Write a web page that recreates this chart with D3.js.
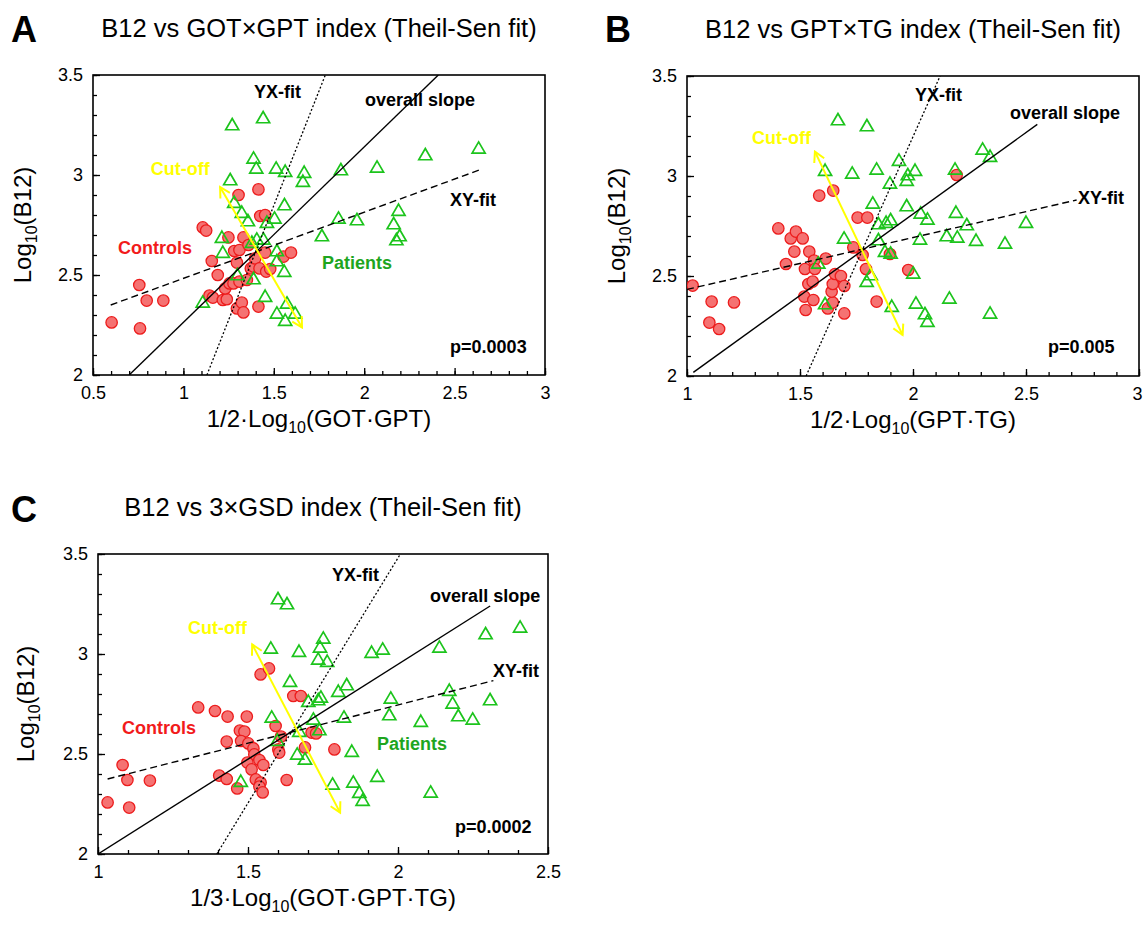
<!DOCTYPE html>
<html><head><meta charset="utf-8">
<script src="https://cdn.jsdelivr.net/npm/d3@7/dist/d3.min.js"></script>
<style>
html,body{margin:0;padding:0;background:#fff;}
svg{display:block;font-family:"Liberation Sans",Arial,Helvetica,sans-serif;}
</style></head>
<body>
<svg id="chart" width="1143" height="929"></svg>
<script>
// ---------- DATA ----------
const yTicks = [2, 2.5, 3, 3.5];
const xTicksA = [0.5, 1, 1.5, 2, 2.5, 3];
const xTicksB = [1, 1.5, 2, 2.5, 3];
const xTicksC = [1, 1.5, 2, 2.5];

const controlsA = [[0.603,2.263],[0.756,2.45],[0.760,2.233],[0.797,2.372],[0.889,2.372],[1.107,2.738],[1.126,2.722],[1.157,2.57],[1.144,2.397],[1.163,2.387],[1.19,2.5],[1.218,2.375],[1.24,2.379],[1.231,2.433],[1.249,2.688],[1.255,2.458],[1.277,2.458],[1.281,2.62],[1.296,2.562],[1.31,2.625],[1.305,2.90],[1.296,2.333],[1.323,2.362],[1.332,2.313],[1.332,2.688],[1.31,2.467],[1.351,2.475],[1.36,2.65],[1.373,2.533],[1.388,2.542],[1.397,2.583],[1.415,2.928],[1.425,2.795],[1.421,2.533],[1.452,2.612],[1.452,2.80],[1.458,2.517],[1.48,2.53],[1.415,2.342],[1.554,2.592],[1.595,2.612]];
const patientsA = [[1.27,3.25],[1.441,3.285],[1.388,3.083],[1.403,3.033],[1.513,3.033],[1.563,3.017],[1.668,3.012],[1.661,2.967],[1.871,3.025],[1.259,2.975],[1.281,2.862],[1.323,2.812],[1.357,2.77],[1.462,2.762],[1.504,2.783],[1.559,2.85],[1.213,2.687],[1.218,2.612],[1.379,2.662],[1.406,2.678],[1.443,2.678],[1.517,2.62],[1.517,2.57],[1.558,2.517],[1.299,2.50],[1.388,2.48],[1.452,2.392],[1.107,2.363],[1.517,2.308],[1.563,2.272],[1.573,2.358],[1.618,2.308],[1.766,2.695],[1.858,2.783],[1.96,2.775],[2.633,3.133],[2.338,3.10],[2.071,3.038],[2.19,2.822],[2.163,2.755],[2.196,2.695],[2.178,2.675]];
const overallA = [[0.70,2.0],[2.41,3.5]];
const xyFitA = [[0.598,2.35],[2.637,3.025]];
const yxFitA = [[1.13,2.0],[1.785,3.5]];
const cutoffA = [[1.203,2.94],[1.656,2.238]];

const controlsB = [[1.025,2.452],[1.109,2.372],[1.208,2.368],[1.099,2.267],[1.142,2.235],[1.404,2.738],[1.459,2.688],[1.482,2.722],[1.512,2.688],[1.475,2.622],[1.541,2.622],[1.438,2.56],[1.522,2.535],[1.562,2.577],[1.566,2.535],[1.614,2.587],[1.537,2.46],[1.556,2.472],[1.519,2.397],[1.559,2.38],[1.525,2.33],[1.623,2.338],[1.645,2.367],[1.64,2.422],[1.645,2.46],[1.655,2.51],[1.681,2.50],[1.696,2.45],[1.696,2.313],[1.585,2.902],[1.647,2.927],[1.755,2.792],[1.798,2.792],[1.736,2.643],[1.777,2.605],[1.792,2.535],[1.839,2.372],[1.898,2.61],[1.979,2.53],[2.193,3.005]];
const patientsB = [[1.668,3.28],[1.796,3.25],[1.611,3.027],[1.731,3.013],[1.839,3.033],[1.938,3.077],[1.977,3.005],[2.009,3.027],[1.972,2.977],[1.898,2.963],[1.822,2.863],[1.972,2.85],[2.034,2.813],[2.064,2.783],[1.847,2.76],[1.881,2.767],[1.901,2.78],[1.695,2.688],[1.847,2.68],[1.876,2.622],[1.901,2.613],[2.031,2.683],[1.581,2.563],[1.813,2.505],[1.795,2.472],[2.001,2.513],[1.611,2.36],[1.906,2.347],[2.013,2.363],[2.053,2.31],[2.064,2.272],[2.308,3.133],[2.341,3.097],[2.186,3.033],[2.19,2.817],[2.238,2.755],[2.5,2.767],[2.149,2.70],[2.196,2.693],[2.279,2.677],[2.407,2.663],[2.161,2.388],[2.341,2.313]];
const overallB = [[1.028,2.018],[2.55,3.258]];
const xyFitB = [[1.0,2.433],[2.724,2.88]];
const yxFitB = [[1.527,2.0],[2.12,3.5]];
const cutoffB = [[1.566,3.122],[1.954,2.205]];

const controlsC = [[1.032,2.258],[1.082,2.445],[1.098,2.37],[1.173,2.367],[1.104,2.232],[1.334,2.733],[1.39,2.715],[1.432,2.687],[1.496,2.687],[1.473,2.617],[1.488,2.612],[1.477,2.565],[1.501,2.553],[1.429,2.562],[1.518,2.528],[1.521,2.498],[1.498,2.457],[1.512,2.423],[1.404,2.392],[1.429,2.375],[1.464,2.328],[1.542,2.898],[1.57,2.928],[1.651,2.79],[1.676,2.79],[1.592,2.64],[1.61,2.587],[1.538,2.47],[1.551,2.445],[1.601,2.523],[1.604,2.507],[1.69,2.533],[1.712,2.607],[1.727,2.603],[1.788,2.523],[1.526,2.373],[1.542,2.357],[1.538,2.337],[1.549,2.308],[1.629,2.37]];
const patientsC = [[1.6,3.275],[1.63,3.25],[1.576,3.028],[1.67,3.012],[1.751,3.078],[1.74,3.033],[1.734,2.973],[1.764,2.962],[1.64,2.862],[1.701,2.762],[1.734,2.77],[1.743,2.783],[1.801,2.812],[1.829,2.845],[1.579,2.683],[1.718,2.673],[1.82,2.683],[1.671,2.612],[1.738,2.62],[1.598,2.567],[1.664,2.498],[1.69,2.473],[1.782,2.348],[1.476,2.362],[1.912,3.007],[1.949,3.023],[2.138,3.033],[2.292,3.10],[2.407,3.133],[1.976,2.778],[2.171,2.817],[2.182,2.753],[2.307,2.77],[1.971,2.695],[2.201,2.69],[2.249,2.673],[2.076,2.662],[1.846,2.512],[1.851,2.358],[1.871,2.307],[1.882,2.267],[1.931,2.387],[2.109,2.308]];
const overallC = [[1.0,2.0],[2.307,3.24]];
const xyFitC = [[1.032,2.375],[2.318,2.867]];
const yxFitC = [[1.396,2.0],[2.008,3.5]];
const cutoffC = [[1.514,3.048],[1.807,2.207]];

// ---------- DRAW ----------
const svg = d3.select("#chart");
const RED_FILL = "#f57272", RED_STROKE = "#ec1c1c", GREEN = "#1cc41c", GREEN_TXT = "#1ea51e", YELLOW = "#ffff00";

const defs = svg.append("defs");
defs.append("marker").attr("id","arrowY").attr("viewBox","-12 -7 14 14")
  .attr("refX",0).attr("refY",0).attr("markerWidth",14).attr("markerHeight",14)
  .attr("markerUnits","userSpaceOnUse").attr("orient","auto-start-reverse")
  .append("path").attr("d","M-10,-5.5L0,0L-10,5.5").attr("fill","none")
  .attr("stroke",YELLOW).attr("stroke-width",2);

function drawPanel(p){
  const g = svg.append("g");
  const x = d3.scaleLinear().domain(p.xDomain).range(p.xRange);
  const y = d3.scaleLinear().domain([2,3.5]).range(p.yRange);
  const [x0,x1] = p.xRange, [y0,y1] = p.yRange; // y0 bottom, y1 top

  // panel letter + title
  g.append("text").attr("x",p.letterPos[0]).attr("y",p.letterPos[1])
    .attr("font-size",36).attr("font-weight","bold").text(p.letter);
  g.append("text").attr("x",(x0+x1)/2).attr("y",y1-38).attr("text-anchor","middle")
    .attr("font-size",25.5).text(p.title);

  // axes
  const minorX = d3.range(Math.round(p.xDomain[0]*10), Math.round(p.xDomain[1]*10)+1).map(v=>v/10);
  const minorY = d3.range(20,36).map(v=>v/10);
  const ax = g.append("g").attr("transform",`translate(0,${y0})`);
  ax.call(d3.axisBottom(x).tickValues(minorX).tickSize(-4).tickFormat(""));
  const axM = g.append("g").attr("transform",`translate(0,${y0})`);
  axM.call(d3.axisBottom(x).tickValues(p.xTicks).tickSize(-7).tickPadding(11).tickFormat(d3.format("")));
  const ay = g.append("g").attr("transform",`translate(${x0},0)`);
  ay.call(d3.axisLeft(y).tickValues(minorY).tickSize(-4).tickFormat(""));
  const ayM = g.append("g").attr("transform",`translate(${x0},0)`);
  ayM.call(d3.axisLeft(y).tickValues(yTicks).tickSize(-7).tickPadding(10).tickFormat(d3.format("")));
  g.selectAll(".domain").remove();
  g.selectAll(".tick line").attr("stroke","#000").attr("stroke-width",1.3);
  g.selectAll(".tick text").attr("font-size",18).attr("fill","#000")
    .attr("font-family",'"Liberation Sans",Arial,sans-serif');
  if (p.lastTickShift) axM.selectAll(".tick:last-of-type text").attr("dx",p.lastTickShift);
  g.append("rect").attr("x",x0).attr("y",y1).attr("width",x1-x0).attr("height",y0-y1)
    .attr("fill","none").attr("stroke","#000").attr("stroke-width",1.6);

  // axis titles
  const xt = g.append("text").attr("x",(x0+x1)/2).attr("y",y0+52).attr("text-anchor","middle").attr("font-size",24);
  xt.append("tspan").text(p.xLabel[0]);
  xt.append("tspan").attr("font-size",16).attr("dy",6).text("10");
  xt.append("tspan").attr("dy",-6).text(p.xLabel[1]);
  const yt = g.append("text").attr("transform",`translate(${x0-p.yLabelOff},${(y0+y1)/2}) rotate(-90)`)
    .attr("text-anchor","middle").attr("font-size",24);
  yt.append("tspan").text("Log");
  yt.append("tspan").attr("font-size",16).attr("dy",6).text("10");
  yt.append("tspan").attr("dy",-6).text("(B12)");

  // points
  const clipId = "clip"+p.letter;
  defs.append("clipPath").attr("id",clipId).append("rect")
    .attr("x",x0).attr("y",y1).attr("width",x1-x0).attr("height",y0-y1);
  const pg = g.append("g").attr("clip-path",`url(#${clipId})`);
  pg.selectAll("circle").data(p.controls).join("circle")
    .attr("cx",d=>x(d[0])).attr("cy",d=>y(d[1])).attr("r",5.7)
    .attr("fill",RED_FILL).attr("stroke",RED_STROKE).attr("stroke-width",1.3);
  const tri = d3.symbol(d3.symbolTriangle, 74);
  pg.selectAll("path.tri").data(p.patients).join("path").attr("class","tri")
    .attr("d",tri).attr("transform",d=>`translate(${x(d[0])},${y(d[1])+1})`)
    .attr("fill","none").attr("stroke",GREEN).attr("stroke-width",1.7);

  // fit lines
  const line = d3.line().x(d=>x(d[0])).y(d=>y(d[1]));
  pg.append("path").attr("d",line(p.overall)).attr("stroke","#000").attr("stroke-width",1.4).attr("fill","none");
  pg.append("path").attr("d",line(p.xyFit)).attr("stroke","#000").attr("stroke-width",1.4).attr("fill","none").attr("stroke-dasharray","7,4");
  pg.append("path").attr("d",line(p.yxFit)).attr("stroke","#000").attr("stroke-width",1.3).attr("fill","none").attr("stroke-dasharray","2,2");
  g.append("path").attr("d",line(p.cutoff)).attr("stroke",YELLOW).attr("stroke-width",2).attr("fill","none")
    .attr("marker-start","url(#arrowY)").attr("marker-end","url(#arrowY)");

  // annotations
  p.labels.forEach(l=>{
    g.append("text").attr("x",x(l.x)).attr("y",y(l.y)).attr("dy","0.36em")
      .attr("font-size",18).attr("font-weight","bold").attr("fill",l.color||"#000").text(l.text);
  });
}

drawPanel({letter:"A", letterPos:[11,42], title:"B12 vs GOT×GPT index (Theil-Sen fit)",
  xDomain:[0.5,3], xRange:[93,545], yRange:[375,75], xTicks:xTicksA,
  xLabel:["1/2·Log","(GOT·GPT)"], yLabelOff:62,
  controls:controlsA, patients:patientsA, overall:overallA, xyFit:xyFitA, yxFit:yxFitA, cutoff:cutoffA,
  labels:[{text:"YX-fit",x:1.39,y:3.415},{text:"overall slope",x:2.004,y:3.375},
    {text:"Cut-off",x:0.819,y:3.03,color:YELLOW},{text:"XY-fit",x:2.475,y:2.875},
    {text:"Controls",x:0.638,y:2.635,color:"#f21b1b"},{text:"Patients",x:1.767,y:2.56,color:GREEN_TXT},
    {text:"p=0.0003",x:2.475,y:2.14}]});

drawPanel({letter:"B", letterPos:[605,42], title:"B12 vs GPT×TG index (Theil-Sen fit)",
  xDomain:[1,3], xRange:[687,1139], yRange:[376,76], xTicks:xTicksB, lastTickShift:-2,
  xLabel:["1/2·Log","(GPT·TG)"], yLabelOff:62,
  controls:controlsB, patients:patientsB, overall:overallB, xyFit:xyFitB, yxFit:yxFitB, cutoff:cutoffB,
  labels:[{text:"YX-fit",x:2.009,y:3.405},{text:"overall slope",x:2.429,y:3.315},
    {text:"Cut-off",x:1.288,y:3.19,color:YELLOW},{text:"XY-fit",x:2.73,y:2.89},
    {text:"p=0.005",x:2.597,y:2.145}]});

drawPanel({letter:"C", letterPos:[11,522], title:"B12 vs 3×GSD index (Theil-Sen fit)",
  xDomain:[1,2.5], xRange:[98,548], yRange:[854,554], xTicks:xTicksC,
  xLabel:["1/3·Log","(GOT·GPT·TG)"], yLabelOff:64,
  controls:controlsC, patients:patientsC, overall:overallC, xyFit:xyFitC, yxFit:yxFitC, cutoff:cutoffC,
  labels:[{text:"YX-fit",x:1.78,y:3.395},{text:"overall slope",x:2.107,y:3.29},
    {text:"Cut-off",x:1.30,y:3.13,color:YELLOW},{text:"XY-fit",x:2.317,y:2.915},
    {text:"Controls",x:1.08,y:2.63,color:"#f21b1b"},{text:"Patients",x:1.93,y:2.55,color:GREEN_TXT},
    {text:"p=0.0002",x:2.19,y:2.135}]});
</script>
</body></html>
